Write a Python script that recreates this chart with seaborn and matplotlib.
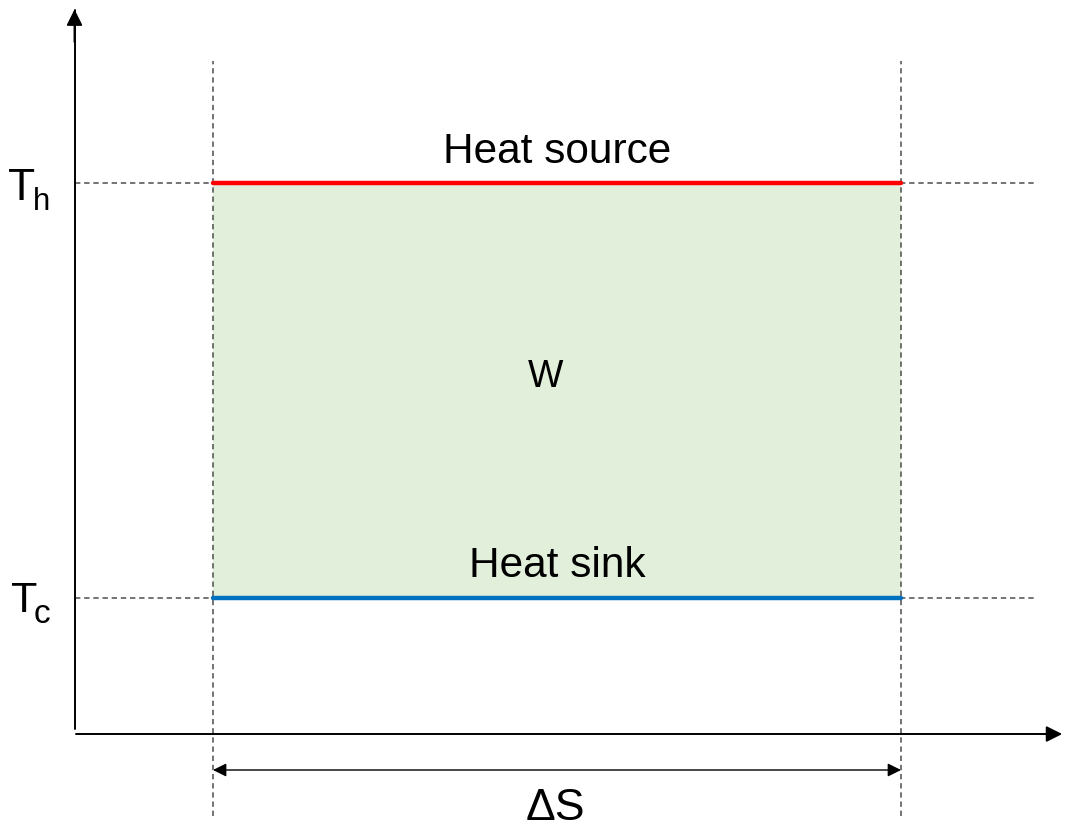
import numpy as np
import pandas as pd
import matplotlib.pyplot as plt
import seaborn as sns

# Carnot cycle on a T-S diagram (arbitrary units)
s_bounds = [1.0, 3.0]          # entropy at start / end of isotherms
t_levels = [600.0, 300.0]      # T_h (heat source), T_c (heat sink)
t_names = ["Heat source", "Heat sink"]
t_colors = ["#FF0000", "#0070C0"]
t_ticks = ["T", "T"]
t_subs = ["h", "c"]

sns.set_theme(style="white")
plt.rcParams['font.family'] = ['Liberation Sans', 'DejaVu Sans']

fig = plt.figure(figsize=(10.65, 8.27), dpi=100)
ax = fig.add_axes([0, 0, 1, 1])

# scale chosen so the drawing fills the canvas like the original
ax.set_xlim(0.3808, 3.4767)
ax.set_ylim(134.5, 732.3)
ax.axis("off")

s0, t0 = 0.5974, 201.7   # origin of the axes
dash = (3.5, 2.5)
grey = "#4D4D4D"

# work area
ax.fill_between(s_bounds, t_levels[1], t_levels[0], color="#E2EFDA", lw=0, zorder=1)

# guide lines
for t in t_levels:
    ax.plot([s0, 3.395], [t, t], color=grey, lw=1.1, dashes=dash, zorder=2)
for s in s_bounds:
    ax.plot([s, s], [142.4, 688.2], color=grey, lw=1.1, dashes=dash, zorder=2)

# isotherms
df = pd.DataFrame({
    "S": s_bounds * 2,
    "T": [t_levels[0]] * 2 + [t_levels[1]] * 2,
    "line": [t_names[0]] * 2 + [t_names[1]] * 2,
})
sns.lineplot(data=df, x="S", y="T", hue="line", palette=t_colors,
             lw=3.2, legend=False, ax=ax, zorder=3)

# axes with arrows
ax.plot([s0, s0], [t0 + 3.5, 725.0], color="black", lw=1.4, zorder=4)
ax.annotate("", xy=(s0, 727.5), xytext=(s0, 700.0),
            arrowprops=dict(arrowstyle="-|>", color="black", lw=1.4, mutation_scale=24))
ax.plot([s0 + 0.005, 3.44], [t0, t0], color="black", lw=1.4, zorder=4)
ax.annotate("", xy=(3.4767, t0), xytext=(3.4, t0),
            arrowprops=dict(arrowstyle="-|>", color="black", lw=1.4, mutation_scale=24))

# delta S dimension arrow
ax.annotate("", xy=(s_bounds[0], 175.7), xytext=(s_bounds[1], 175.7),
            arrowprops=dict(arrowstyle="<|-|>", color="black", lw=1.0,
                            mutation_scale=20, shrinkA=0, shrinkB=0))

mid = np.mean(s_bounds)
ax.text(mid, 614.5, t_names[0], ha="center", va="baseline", fontsize=30.5, color="black")
ax.text(mid, 315.2, t_names[1], ha="center", va="baseline", fontsize=30.5, color="black")
ax.text(1.968, 452.5, "W", ha="center", va="baseline", fontsize=27, color="black")
ax.text(1.994, 139.8, "ΔS", ha="center", va="baseline", fontsize=32, color="black")

# T_h and T_c labels
ax.text(0.404, 587.7, t_ticks[0], ha="left", va="baseline", fontsize=32, color="black")
ax.text(0.4767, 580.5, t_subs[0], ha="left", va="baseline", fontsize=22.5, color="black")
ax.text(0.4128, 289.9, t_ticks[1], ha="left", va="baseline", fontsize=31, color="black")
ax.text(0.4775, 281.9, t_subs[1], ha="left", va="baseline", fontsize=24, color="black")

plt.savefig("out.png", dpi=100)
